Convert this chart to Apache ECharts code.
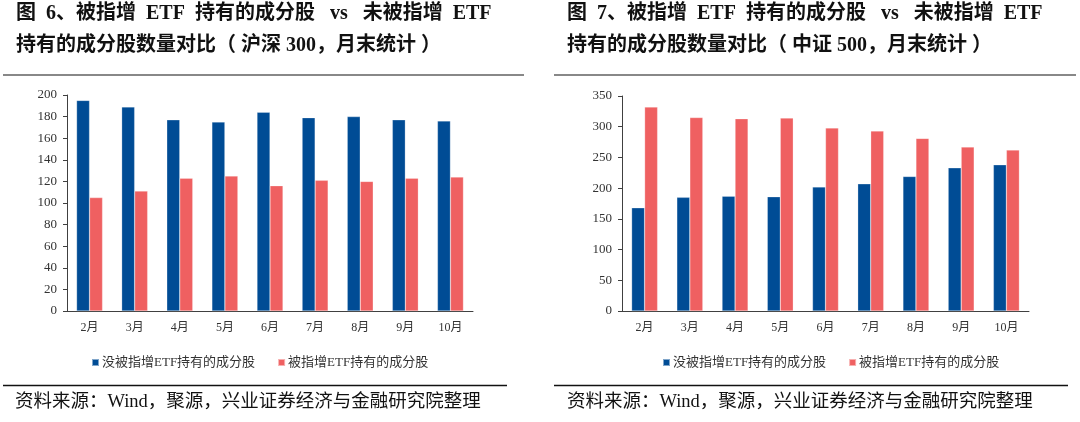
<!DOCTYPE html>
<html>
<head>
<meta charset="utf-8">
<script src="https://cdn.jsdelivr.net/npm/echarts@6/dist/echarts.min.js"></script>
<style>
html,body{margin:0;padding:0;background:#fff;}
#c{width:1080px;height:422px;}
</style>
</head>
<body>
<div id="c"></div>
<script>
const months = ['2月','3月','4月','5月','6月','7月','8月','9月','10月'];
const seriesNames = ['没被指增ETF持有的成分股','被指增ETF持有的成分股'];
// 沪深300
const hs300NotHeld = [195,189,177,175,184,179,180,177,176];
const hs300Held    = [105,111,123,125,116,121,120,123,124];
// 中证500
const zz500NotHeld = [168,185,187,186,202,207,219,233,238];
const zz500Held    = [332,315,313,314,298,293,281,267,262];
const leftTicks = {min:0, max:200, interval:20};
const rightTicks = {min:0, max:350, interval:50};

const BLUE = '#004C95';
const RED = '#EF6061';
const serif = "'Liberation Serif','Times New Roman',serif";
const titleFont = "'Liberation Serif','Noto Sans CJK SC',serif";
const cjk = "'Liberation Serif','Noto Sans CJK SC',sans-serif";

const chart = echarts.init(document.getElementById('c'), null, {renderer:'canvas'});

function yAxis(gi, t){
  return {
    type:'value', gridIndex:gi, min:t.min, max:t.max, interval:t.interval,
    axisLine:{show:true, lineStyle:{color:'#404040', width:1}},
    axisTick:{show:true, inside:false, length:4, lineStyle:{color:'#404040'}},
    splitLine:{show:false},
    axisLabel:{color:'#333', fontFamily:serif, fontSize:13, margin:10}
  };
}
function xAxis(gi){
  return {
    type:'category', gridIndex:gi, data:months,
    axisLine:{show:true, lineStyle:{color:'#404040', width:1}},
    axisTick:{show:false},
    axisLabel:{color:'#333', fontFamily:cjk, fontSize:12, margin:11}
  };
}
function bar(name, gi, data, color){
  return {
    name, type:'bar', xAxisIndex:gi, yAxisIndex:gi, data,
    barWidth:13, barGap:'0%',
    itemStyle:{color, borderColor:'rgba(255,255,255,0.5)', borderWidth:0.5},
    emphasis:{disabled:true}, animation:false
  };
}
function legend(left){
  return {
    data:seriesNames, left, top:351, itemWidth:7, itemHeight:7, itemGap:22,
    icon:'rect',
    textStyle:{fontFamily:cjk, fontSize:13, color:'#333', padding:[0,0,0,-2]}
  };
}

const graphics = [];
function addText(text, x, y, size, weight, color){
  graphics.push({type:'text', left:x, top:y, silent:true,
    style:{text, fontSize:size, fontWeight:weight, fontFamily:titleFont, fill:color}});
}
function addLine(x1,x2,y,color,w){
  graphics.push({type:'line', silent:true, shape:{x1,y1:y,x2,y2:y}, style:{stroke:color, lineWidth:w}});
}
addText('图  6、被指增  ETF  持有的成分股   vs   未被指增  ETF', 16, 4, 20, 'bold', '#111');
addText('持有的成分股数量对比（ 沪深 300，月末统计 ）', 16, 36, 20, 'bold', '#111');
addText('图  7、被指增  ETF  持有的成分股   vs   未被指增  ETF', 567, 4, 20, 'bold', '#111');
addText('持有的成分股数量对比（ 中证 500，月末统计 ）', 567, 36, 20, 'bold', '#111');
addLine(3, 524, 75, '#888', 2);
addLine(554, 1076, 75, '#888', 2);
addLine(3, 507, 385.5, '#111', 1.5);
addLine(554, 1068, 385.5, '#111', 1.5);
addText('资料来源：Wind，聚源，兴业证券经济与金融研究院整理', 15, 393, 18.5, 'normal', '#111');
addText('资料来源：Wind，聚源，兴业证券经济与金融研究院整理', 567, 393, 18.5, 'normal', '#111');

chart.setOption({
  animation:false,
  backgroundColor:'#fff',
  grid:[
    {left:67, top:95, width:406, height:216},
    {left:622, top:96, width:407, height:215}
  ],
  xAxis:[xAxis(0), xAxis(1)],
  yAxis:[yAxis(0,leftTicks), yAxis(1,rightTicks)],
  legend:[legend(86), legend(657)],
  series:[
    bar(seriesNames[0],0,hs300NotHeld,BLUE),
    bar(seriesNames[1],0,hs300Held,RED),
    bar(seriesNames[0],1,zz500NotHeld,BLUE),
    bar(seriesNames[1],1,zz500Held,RED)
  ],
  graphic:graphics
});
</script>
</body>
</html>
